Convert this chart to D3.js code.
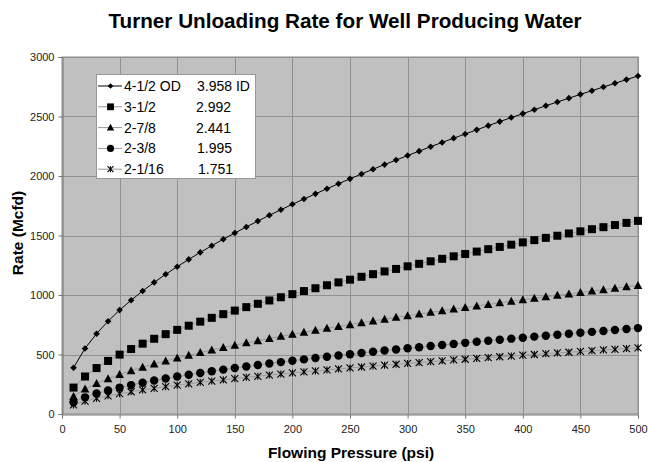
<!DOCTYPE html>
<html><head><meta charset="utf-8">
<script src="https://cdn.jsdelivr.net/npm/d3@7"></script>
<style>body{margin:0;background:#fff;}svg{display:block;font-family:Arial,"Liberation Sans",sans-serif;}</style>
</head><body><svg id="c" width="648" height="462"></svg>
<script>
const pressure = d3.range(10, 501, 10);
const od412 = [389,551,675,780,873,956,1034,1106,1174,1238,1299,1358,1414,1469,1521,1572,1621,1670,1716,1762,1807,1850,1893,1935,1976,2017,2057,2096,2134,2172,2209,2246,2282,2318,2353,2388,2423,2457,2491,2524,2557,2590,2622,2654,2686,2717,2748,2779,2810,2840];
const od312 = [222,315,386,446,499,546,591,632,671,707,742,776,808,839,869,898,926,954,981,1007,1033,1057,1082,1106,1129,1153,1175,1198,1219,1241,1262,1283,1304,1325,1345,1365,1385,1404,1423,1442,1461,1480,1498,1517,1535,1553,1570,1588,1606,1623];
const od278 = [148,210,257,297,332,364,393,421,446,471,494,516,538,559,578,598,616,635,653,670,687,704,720,736,751,767,782,797,812,826,840,854,868,882,895,908,921,934,947,960,972,985,997,1009,1021,1033,1045,1057,1069,1080];
const od238 = [99,140,172,198,222,243,263,281,298,315,330,345,359,373,386,399,412,424,436,448,459,470,481,492,502,513,523,533,542,552,561,571,580,589,598,607,616,624,633,641,650,658,666,674,683,690,698,706,714,722];
const od2116 = [76,108,132,153,171,187,202,216,230,242,254,266,277,287,298,308,317,327,336,345,354,362,370,379,387,395,403,410,418,425,432,440,447,454,460,467,474,481,487,494,500,507,513,519,526,532,538,544,550,556];
const seriesNames = ["4-1/2 OD","3-1/2","2-7/8","2-3/8","2-1/16"];
const seriesIDs = ["3.958 ID","2.992","2.441","1.995","1.751"];
const seriesValues = [od412, od312, od278, od238, od2116];
const xTicks = d3.range(0, 501, 50);
const yTicks = d3.range(0, 3001, 500);

const svg = d3.select("#c");
const L=62, R=638, T=57, B=414;
const x = d3.scaleLinear().domain([0,500]).range([L,R]);
const y = d3.scaleLinear().domain([0,3000]).range([B,T]);

svg.append("rect").attr("x",L).attr("y",T).attr("width",R-L).attr("height",B-T).attr("fill","#c0c0c0").attr("stroke","#8c8c8c").attr("stroke-width",1);
const grid = svg.append("g").attr("stroke","#909090").attr("stroke-width",1);
xTicks.slice(1).forEach(t=>grid.append("line").attr("x1",Math.round(x(t))+.5).attr("x2",Math.round(x(t))+.5).attr("y1",T).attr("y2",B));
yTicks.slice(1).forEach(t=>grid.append("line").attr("x1",L).attr("x2",R).attr("y1",Math.round(y(t))+.5).attr("y2",Math.round(y(t))+.5));

const fmt = d3.format("d");
const xa = svg.append("g").attr("transform",`translate(0,${B+.5})`).call(d3.axisBottom(x).tickValues(xTicks).tickFormat(fmt).tickSize(4).tickPadding(7));
const ya = svg.append("g").attr("transform",`translate(${L+.5},0)`).call(d3.axisLeft(y).tickValues(yTicks).tickFormat(fmt).tickSize(4).tickPadding(4));
[xa,ya].forEach(a=>{a.select(".domain").attr("stroke","#777");a.selectAll(".tick line").attr("stroke","#777");a.selectAll("text").attr("font-size",11).attr("fill","#222").attr("font-family","Arial, Liberation Sans, sans-serif");});

svg.append("text").attr("x",345).attr("y",28).attr("text-anchor","middle").attr("font-size",20.7).attr("font-weight","bold").text("Turner Unloading Rate for Well Producing Water");
svg.append("text").attr("x",351).attr("y",458).attr("text-anchor","middle").attr("font-size",15.5).attr("font-weight","bold").text("Flowing Pressure (psi)");
svg.append("text").attr("transform","translate(23,233) rotate(-90)").attr("text-anchor","middle").attr("font-size",15.5).attr("font-weight","bold").text("Rate (Mcfd)");

function marker(g, i, cx, cy, s){
  const h = 4*s;
  if(i===0){ const d=3.3*s; g.append("path").attr("d",`M${cx},${cy-d}L${cx+d},${cy}L${cx},${cy+d}L${cx-d},${cy}Z`).attr("fill","#000"); }
  else if(i===1){ g.append("rect").attr("x",cx-h).attr("y",cy-h).attr("width",2*h).attr("height",2*h).attr("fill","#000"); }
  else if(i===2){ g.append("path").attr("d",`M${cx},${cy-h-0.5}L${cx+h+0.3},${cy+h-0.5}L${cx-h-0.3},${cy+h-0.5}Z`).attr("fill","#000"); }
  else if(i===3){ g.append("circle").attr("cx",cx).attr("cy",cy).attr("r",h+0.2).attr("fill","#000"); }
  else { const r=3.5*s; g.append("path").attr("d",`M${cx-r},${cy-r}L${cx+r},${cy+r}M${cx-r},${cy+r}L${cx+r},${cy-r}M${cx},${cy-r}L${cx},${cy+r}`).attr("stroke","#000").attr("stroke-width",1.1).attr("fill","none"); }
}

const line = d3.line().x((d,j)=>x(pressure[j])).y(d=>y(d));
const plot = svg.append("g");
for(let i=seriesValues.length-1;i>=0;i--){
  plot.append("path").datum(seriesValues[i]).attr("d",line).attr("fill","none").attr("stroke", i===0?"#000":"#9a9a9a").attr("stroke-width",1);
  const mg = plot.append("g");
  seriesValues[i].forEach((v,j)=>marker(mg,i,x(pressure[j]),y(v),1));
}

const lg = svg.append("g");
lg.append("rect").attr("x",96.5).attr("y",74.5).attr("width",159).attr("height",104).attr("fill","#fff").attr("stroke","#999");
seriesNames.forEach((n,i)=>{
  const cy = 86 + i*20.8;
  lg.append("line").attr("x1",98).attr("x2",122).attr("y1",cy).attr("y2",cy).attr("stroke", i===0?"#000":"#999");
  marker(lg,i,110.5,cy,0.85);
  lg.append("text").attr("x",124).attr("y",cy+5).attr("font-size",14).text(n);
  lg.append("text").attr("x",[197,196,196,197,198][i]).attr("y",cy+5).attr("font-size",14).text(seriesIDs[i]);
});
</script></body></html>
